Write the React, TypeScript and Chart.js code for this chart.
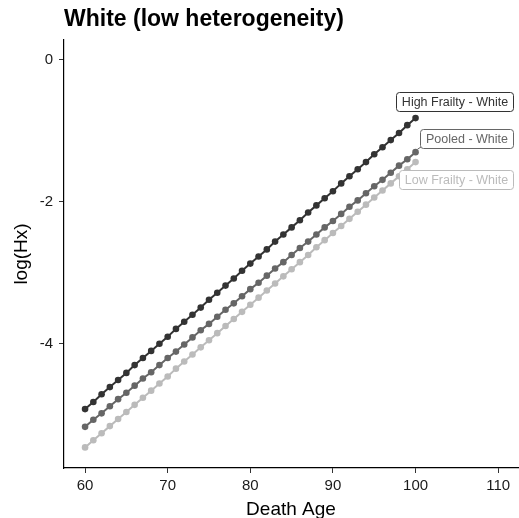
import React, { useEffect, useRef } from "react";
import { Chart, registerables } from "chart.js";

Chart.register(...registerables);

const ages = [60, 61, 62, 63, 64, 65, 66, 67, 68, 69, 70, 71, 72, 73, 74, 75, 76, 77, 78, 79, 80, 81, 82, 83, 84, 85, 86, 87, 88, 89, 90, 91, 92, 93, 94, 95, 96, 97, 98, 99, 100];

const highFrailty = [-4.92, -4.82, -4.71, -4.61, -4.51, -4.41, -4.30, -4.20, -4.10, -4.00, -3.90, -3.79, -3.69, -3.59, -3.49, -3.38, -3.28, -3.18, -3.08, -2.97, -2.87, -2.77, -2.67, -2.56, -2.46, -2.36, -2.26, -2.15, -2.05, -1.95, -1.85, -1.74, -1.64, -1.54, -1.44, -1.33, -1.23, -1.13, -1.03, -0.92, -0.82];

const pooled = [-5.17, -5.07, -4.98, -4.88, -4.78, -4.69, -4.59, -4.49, -4.40, -4.30, -4.20, -4.11, -4.01, -3.91, -3.81, -3.72, -3.62, -3.52, -3.43, -3.33, -3.23, -3.14, -3.04, -2.94, -2.85, -2.75, -2.65, -2.56, -2.46, -2.36, -2.27, -2.17, -2.07, -1.98, -1.88, -1.78, -1.69, -1.59, -1.49, -1.40, -1.30];

const lowFrailty = [-5.46, -5.36, -5.26, -5.16, -5.06, -4.96, -4.86, -4.76, -4.66, -4.56, -4.46, -4.35, -4.25, -4.15, -4.05, -3.95, -3.85, -3.75, -3.65, -3.55, -3.45, -3.35, -3.25, -3.15, -3.05, -2.95, -2.85, -2.75, -2.64, -2.54, -2.44, -2.34, -2.24, -2.14, -2.04, -1.94, -1.84, -1.74, -1.64, -1.54, -1.44];

const seriesNames = ["High Frailty - White", "Pooled - White", "Low Frailty - White"];
const xTicks = [60, 70, 80, 90, 100, 110];
const yTicks = [-4, -2, 0];

const colors = ["#333333", "#666666", "#bbbbbb"];
// label right-edge anchor positions in data units (ggrepel-like labels)
const labelPos = [
  { x: 111.85, y: -0.58, segment: false },
  { x: 111.85, y: -1.11, segment: true },
  { x: 111.8, y: -1.68, segment: false },
];

const FONT = "'Liberation Sans', Arial, Helvetica, sans-serif";

const labelPlugin = {
  id: "repelLabels",
  afterDatasetsDraw(chart: any) {
    const ctx = chart.ctx;
    const xs = chart.scales.x;
    const ys = chart.scales.y;
    ctx.save();
    ctx.font = `12.5px ${FONT}`;
    chart.data.datasets.forEach((ds: any, i: number) => {
      const p = labelPos[i];
      const rx = xs.getPixelForValue(p.x);
      const cy = ys.getPixelForValue(p.y);
      const text = seriesNames[i];
      const tw = ctx.measureText(text).width;
      const w = Math.round(tw + 11);
      const h = 19;
      const x0 = Math.round(rx - w);
      const y0 = Math.round(cy - h / 2);
      if (p.segment) {
        const last = ds.data[ds.data.length - 1];
        const px = xs.getPixelForValue(last.x);
        const py = ys.getPixelForValue(last.y);
        ctx.strokeStyle = colors[i];
        ctx.lineWidth = 1;
        ctx.beginPath();
        ctx.moveTo(x0 + 1, y0 + h - 1);
        ctx.lineTo(px + 2, py - 3);
        ctx.stroke();
      }
      ctx.fillStyle = "#ffffff";
      ctx.strokeStyle = colors[i];
      ctx.lineWidth = 1;
      ctx.beginPath();
      (ctx as any).roundRect(x0 + 0.5, y0 + 0.5, w, h, 3);
      ctx.fill();
      ctx.stroke();
      ctx.fillStyle = colors[i];
      ctx.textAlign = "center";
      ctx.textBaseline = "middle";
      ctx.fillText(text, x0 + w / 2 + 0.5, y0 + h / 2 + 1);
    });
    ctx.restore();
  },
};

const titlePlugin = {
  id: "plotTitle",
  afterDraw(chart: any) {
    const ctx = chart.ctx;
    ctx.save();
    ctx.font = `bold 23px ${FONT}`;
    ctx.fillStyle = "#000000";
    ctx.textAlign = "left";
    ctx.textBaseline = "alphabetic";
    ctx.fillText("White (low heterogeneity)", 64, 26);
    ctx.restore();
  },
};

export default function App() {
  const ref = useRef<HTMLCanvasElement | null>(null);
  useEffect(() => {
    document.body.style.margin = "0";
    const data = [highFrailty, pooled, lowFrailty];
    const chart = new Chart(ref.current as HTMLCanvasElement, {
      type: "line",
      data: {
        datasets: data.map((vals, i) => ({
          label: seriesNames[i],
          data: ages.map((a, j) => ({ x: a, y: vals[j] })),
          borderColor: colors[i],
          backgroundColor: colors[i],
          pointBackgroundColor: colors[i],
          pointBorderColor: colors[i],
          pointRadius: 3.3,
          pointBorderWidth: 0,
          borderWidth: 2,
          fill: false,
          tension: 0,
        })),
      },
      options: {
        animation: false,
        responsive: true,
        maintainAspectRatio: false,
        layout: { autoPadding: false, padding: { top: 40, right: 1, left: 0, bottom: 0 } },
        plugins: {
          legend: { display: false },
          tooltip: { enabled: false },
          title: { display: false },
        },
        scales: {
          x: {
            type: "linear",
            min: 57.45,
            max: 112.4,
            afterBuildTicks: (s: any) => {
              s.ticks = xTicks.map((v) => ({ value: v }));
            },
            afterFit: (s: any) => {
              s.height = 50;
            },
            grid: { drawOnChartArea: false, drawTicks: true, tickLength: 5, color: "#333333", lineWidth: 1 },
            border: { display: true, color: "#000000", width: 1.2 },
            ticks: {
              color: "#1a1a1a",
              font: { family: FONT, size: 15 },
              padding: 4,
              maxRotation: 0,
              callback: (v: any) => String(v),
            },
            title: {
              display: true,
              text: "Death Age",
              color: "#000000",
              font: { family: FONT, size: 19 },
              padding: { top: 0, bottom: -3 },
            },
          },
          y: {
            type: "linear",
            min: -5.75,
            max: 0.28,
            afterBuildTicks: (s: any) => {
              s.ticks = yTicks.map((v) => ({ value: v }));
            },
            afterFit: (s: any) => {
              s.width = 64;
            },
            grid: { drawOnChartArea: false, drawTicks: true, tickLength: 5, color: "#333333", lineWidth: 1 },
            border: { display: true, color: "#000000", width: 1.2 },
            ticks: {
              color: "#1a1a1a",
              font: { family: FONT, size: 15 },
              padding: 6,
              callback: (v: any) => String(v),
            },
            title: {
              display: true,
              text: "log(Hx)",
              color: "#000000",
              font: { family: FONT, size: 19 },
              padding: { top: 10, bottom: 2 },
            },
          },
        },
      },
      plugins: [labelPlugin, titlePlugin],
    } as any);
    return () => chart.destroy();
  }, []);
  return (
    <div style={{ width: 519, height: 518, position: "relative" }}>
      <canvas ref={ref} />
    </div>
  );
}
